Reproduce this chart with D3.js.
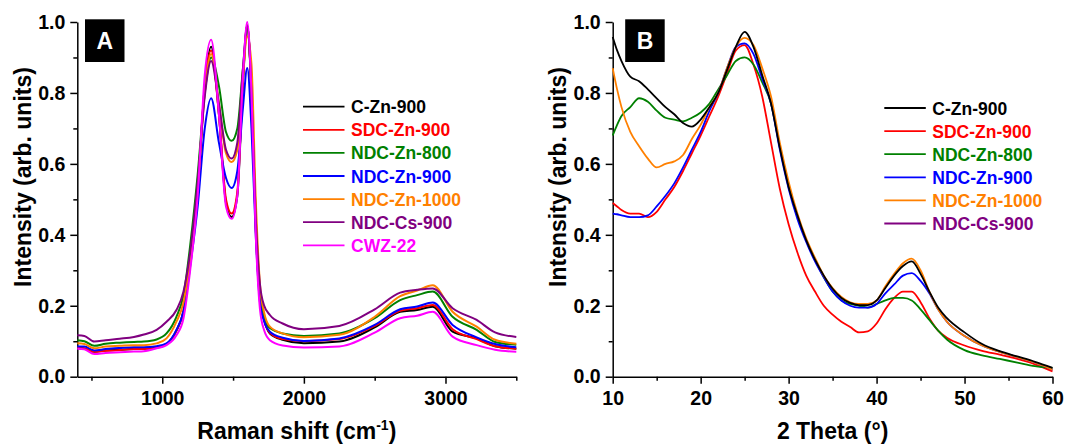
<!DOCTYPE html>
<html>
<head>
<meta charset="utf-8">
<script src="https://cdn.jsdelivr.net/npm/d3@7"></script>
<style>
  body { margin: 0; background: #fff; }
  svg { font-family: "Liberation Sans", Arial, sans-serif; font-weight: bold; }
  .tick text { font-size: 19.5px; font-weight: bold; fill: #000; }
  .axis path, .axis line { stroke: #000; stroke-width: 1.5; }
</style>
</head>
<body>
<svg width="1067" height="445"></svg>
<script>
// ---- panel A : Raman ----
let ramanShift = [400, 450, 520, 600, 700, 800, 870, 960, 1030, 1100, 1150, 1200, 1250, 1300, 1345, 1400, 1450, 1490, 1530, 1570, 1600, 1630, 1660, 1690, 1720, 1760, 1850, 2000, 2250, 2500, 2680, 2800, 2910, 3050, 3220, 3350, 3500];
let ramanCZn900 = [0.080, 0.079, 0.070, 0.074, 0.076, 0.078, 0.078, 0.082, 0.092, 0.130, 0.185, 0.330, 0.520, 0.820, 0.930, 0.740, 0.490, 0.450, 0.510, 0.830, 0.990, 0.800, 0.420, 0.220, 0.160, 0.122, 0.104, 0.094, 0.099, 0.139, 0.183, 0.188, 0.197, 0.127, 0.108, 0.086, 0.079];
let ramanSDCZn900 = [0.082, 0.080, 0.070, 0.073, 0.075, 0.078, 0.078, 0.082, 0.092, 0.130, 0.185, 0.330, 0.520, 0.820, 0.920, 0.740, 0.500, 0.460, 0.520, 0.840, 0.990, 0.800, 0.420, 0.220, 0.160, 0.124, 0.106, 0.100, 0.106, 0.143, 0.186, 0.193, 0.202, 0.134, 0.106, 0.086, 0.079];
let ramanNDCZn800 = [0.103, 0.100, 0.087, 0.093, 0.096, 0.098, 0.099, 0.105, 0.122, 0.169, 0.230, 0.380, 0.570, 0.800, 0.900, 0.820, 0.690, 0.665, 0.700, 0.870, 0.980, 0.800, 0.450, 0.240, 0.170, 0.137, 0.122, 0.115, 0.122, 0.165, 0.216, 0.230, 0.240, 0.169, 0.132, 0.098, 0.090];
let ramanNDCZn900 = [0.085, 0.085, 0.074, 0.078, 0.081, 0.083, 0.083, 0.086, 0.094, 0.132, 0.185, 0.320, 0.480, 0.700, 0.785, 0.660, 0.560, 0.532, 0.580, 0.760, 0.870, 0.700, 0.400, 0.210, 0.155, 0.127, 0.110, 0.101, 0.108, 0.146, 0.190, 0.198, 0.209, 0.146, 0.111, 0.092, 0.083];
let ramanNDCZn1000 = [0.094, 0.092, 0.080, 0.085, 0.087, 0.089, 0.089, 0.094, 0.108, 0.155, 0.210, 0.340, 0.530, 0.800, 0.910, 0.770, 0.630, 0.605, 0.640, 0.850, 0.960, 0.880, 0.500, 0.260, 0.180, 0.141, 0.122, 0.111, 0.118, 0.169, 0.227, 0.243, 0.258, 0.183, 0.141, 0.104, 0.093];
let ramanNDCCs900 = [0.117, 0.115, 0.099, 0.103, 0.107, 0.112, 0.119, 0.132, 0.155, 0.188, 0.240, 0.360, 0.550, 0.790, 0.890, 0.770, 0.640, 0.615, 0.660, 0.870, 0.990, 0.800, 0.450, 0.260, 0.200, 0.174, 0.150, 0.134, 0.143, 0.190, 0.237, 0.245, 0.249, 0.193, 0.160, 0.125, 0.112];
let ramanCWZ22 = [0.079, 0.077, 0.064, 0.067, 0.069, 0.071, 0.072, 0.080, 0.089, 0.117, 0.165, 0.310, 0.510, 0.850, 0.950, 0.740, 0.480, 0.445, 0.510, 0.850, 1.000, 0.800, 0.400, 0.190, 0.130, 0.103, 0.088, 0.082, 0.085, 0.124, 0.165, 0.172, 0.183, 0.113, 0.089, 0.076, 0.070];

// ---- panel B : XRD ----
let theta = [10, 10.5, 11, 12, 13, 14, 15, 16, 17, 18, 19, 20, 21, 22, 23, 24, 25, 26, 27, 28, 29, 30, 31, 32, 33, 34, 35, 36, 37, 38, 39, 40, 41, 42, 43, 44, 45, 46, 47, 48, 50, 52, 54, 56, 58, 60];
let xrdCZn900 = [0.958, 0.920, 0.890, 0.846, 0.833, 0.810, 0.785, 0.760, 0.740, 0.715, 0.705, 0.725, 0.760, 0.800, 0.865, 0.930, 0.972, 0.930, 0.850, 0.770, 0.645, 0.535, 0.455, 0.385, 0.330, 0.285, 0.248, 0.222, 0.208, 0.202, 0.202, 0.215, 0.250, 0.285, 0.312, 0.325, 0.290, 0.240, 0.195, 0.165, 0.125, 0.092, 0.072, 0.057, 0.042, 0.025];
let xrdSDCZn900 = [0.490, 0.480, 0.470, 0.460, 0.460, 0.450, 0.465, 0.500, 0.535, 0.580, 0.630, 0.680, 0.735, 0.790, 0.855, 0.920, 0.935, 0.880, 0.790, 0.660, 0.530, 0.430, 0.350, 0.285, 0.240, 0.200, 0.175, 0.155, 0.140, 0.125, 0.128, 0.150, 0.190, 0.222, 0.240, 0.240, 0.210, 0.165, 0.130, 0.110, 0.088, 0.073, 0.062, 0.050, 0.035, 0.015];
let xrdNDCZn800 = [0.680, 0.710, 0.735, 0.760, 0.785, 0.775, 0.750, 0.730, 0.725, 0.720, 0.730, 0.745, 0.770, 0.810, 0.850, 0.890, 0.900, 0.880, 0.830, 0.770, 0.650, 0.540, 0.450, 0.385, 0.330, 0.280, 0.240, 0.215, 0.205, 0.200, 0.195, 0.205, 0.215, 0.222, 0.222, 0.215, 0.190, 0.160, 0.130, 0.105, 0.075, 0.060, 0.050, 0.040, 0.030, 0.025];
let xrdNDCZn900 = [0.460, 0.458, 0.455, 0.450, 0.450, 0.455, 0.480, 0.510, 0.545, 0.590, 0.640, 0.690, 0.750, 0.800, 0.870, 0.930, 0.940, 0.910, 0.840, 0.770, 0.640, 0.530, 0.445, 0.380, 0.325, 0.280, 0.240, 0.215, 0.200, 0.195, 0.195, 0.205, 0.235, 0.260, 0.285, 0.292, 0.270, 0.235, 0.190, 0.155, 0.115, 0.088, 0.070, 0.055, 0.040, 0.020];
let xrdNDCZn1000 = [0.870, 0.810, 0.760, 0.690, 0.650, 0.615, 0.590, 0.600, 0.607, 0.625, 0.670, 0.710, 0.760, 0.800, 0.870, 0.930, 0.955, 0.935, 0.870, 0.790, 0.660, 0.550, 0.460, 0.390, 0.335, 0.285, 0.250, 0.225, 0.210, 0.205, 0.205, 0.215, 0.255, 0.290, 0.320, 0.333, 0.300, 0.240, 0.190, 0.155, 0.115, 0.088, 0.070, 0.055, 0.040, 0.020];

let legendA = ["C-Zn-900", "SDC-Zn-900", "NDC-Zn-800", "NDC-Zn-900", "NDC-Zn-1000", "NDC-Cs-900", "CWZ-22"];
let legendB = ["C-Zn-900", "SDC-Zn-900", "NDC-Zn-800", "NDC-Zn-900", "NDC-Zn-1000", "NDC-Cs-900"];
let colors = ["#000000", "#ff0000", "#008000", "#0000ff", "#ff8000", "#800080", "#ff00ff"];

let intensityTicks = [0, 0.2, 0.4, 0.6, 0.8, 1.0];
let intensityMinor = [0.1, 0.3, 0.5, 0.7, 0.9];
let ramanTicks = [1000, 2000, 3000];
let ramanMinor = [500, 1500, 2500, 3500];
let thetaTicks = [10, 20, 30, 40, 50, 60];
let thetaMinor = [15, 25, 35, 45, 55];

let svg = d3.select("svg");

function panel(opt) {
  let x = d3.scaleLinear().domain(opt.xdom).range(opt.xr),
      y = d3.scaleLinear().domain([0, 1]).range([376.7, 22]);
  let g = svg.append("g");

  // minor ticks first
  g.append("g").attr("class", "axis")
    .attr("transform", "translate(0,376.7)")
    .call(d3.axisBottom(x).tickValues(opt.xminor).tickSize(4).tickFormat(""))
    .select(".domain").remove();
  g.append("g").attr("class", "axis")
    .attr("transform", "translate(" + opt.xr[0] + ",0)")
    .call(d3.axisLeft(y).tickValues(intensityMinor).tickSize(4).tickFormat(""))
    .select(".domain").remove();

  g.append("g").attr("class", "axis")
    .attr("transform", "translate(0,376.7)")
    .call(d3.axisBottom(x).tickValues(opt.xticks).tickSize(7).tickSizeOuter(0).tickPadding(7).tickFormat(d3.format("d")));
  g.append("g").attr("class", "axis")
    .attr("transform", "translate(" + opt.xr[0] + ",0)")
    .call(d3.axisLeft(y).tickValues(intensityTicks).tickSize(7).tickSizeOuter(0).tickPadding(5).tickFormat(d3.format(".1f")));

  let line = d3.line()
    .x((d, i) => x(opt.xs[i]))
    .y(d => y(d))
    .curve(d3.curveMonotoneX);

  opt.series.forEach(s => {
    g.append("path")
      .attr("d", line(s.v))
      .attr("fill", "none")
      .attr("stroke", s.c)
      .attr("stroke-width", opt.sw)
      .attr("stroke-linejoin", "round");
  });

  // legend
  opt.legend.forEach((name, i) => {
    let ly = opt.ly + i * 23.1;
    g.append("line")
      .attr("x1", opt.lx).attr("x2", opt.lx + 41.5)
      .attr("y1", ly).attr("y2", ly)
      .attr("stroke", colors[i]).attr("stroke-width", 1.8);
    g.append("text")
      .attr("x", opt.lx + 48).attr("y", ly + 6.5)
      .attr("fill", colors[i])
      .style("font-size", "17.5px")
      .text(name);
  });

  // panel letter
  g.append("rect")
    .attr("x", opt.xr[0] + opt.boxdx).attr("y", 19.3)
    .attr("width", 39.5).attr("height", 42.7)
    .attr("fill", "#000");
  g.append("text")
    .attr("x", opt.xr[0] + opt.boxdx + 19.75).attr("y", 49)
    .attr("text-anchor", "middle")
    .attr("fill", "#fff")
    .style("font-size", "23px")
    .text(opt.letter);

  // axis titles
  g.append("text")
    .attr("transform", "translate(" + opt.ytx + ",177) rotate(-90)")
    .attr("text-anchor", "middle")
    .style("font-size", "23px")
    .text("Intensity (arb. units)");
  let xt = g.append("text")
    .attr("x", (opt.xr[0] + opt.xr[1]) / 2).attr("y", 439)
    .attr("text-anchor", "middle")
    .style("font-size", "23px");
  opt.xtitle(xt);
}

panel({
  xdom: [400, 3500], xr: [77.3, 516.3], xs: ramanShift,
  xticks: ramanTicks, xminor: ramanMinor, sw: 2,
  series: [ramanCZn900, ramanSDCZn900, ramanNDCZn800, ramanNDCZn900, ramanNDCZn1000, ramanNDCCs900, ramanCWZ22]
    .map((v, i) => ({v: v, c: colors[i]})),
  legend: legendA, lx: 303, ly: 106.7,
  letter: "A", boxdx: 7.7, ytx: 31,
  xtitle: t => {
    t.append("tspan").text("Raman shift (cm");
    t.append("tspan").attr("dy", -9).style("font-size", "14px").text("-1");
    t.append("tspan").attr("dy", 9).text(")");
  }
});

panel({
  xdom: [10, 60], xr: [612.7, 1052.5], xs: theta,
  xticks: thetaTicks, xminor: thetaMinor, sw: 1.8,
  series: [[xrdSDCZn900, 1], [xrdNDCZn800, 2], [xrdNDCZn900, 3], [xrdNDCZn1000, 4], [xrdCZn900, 0]]
    .map(p => ({v: p[0], c: colors[p[1]]})),
  legend: legendB, lx: 884.3, ly: 108,
  letter: "B", boxdx: 12.5, ytx: 566,
  xtitle: t => t.text("2 Theta (°)")
});
</script>
</body>
</html>
